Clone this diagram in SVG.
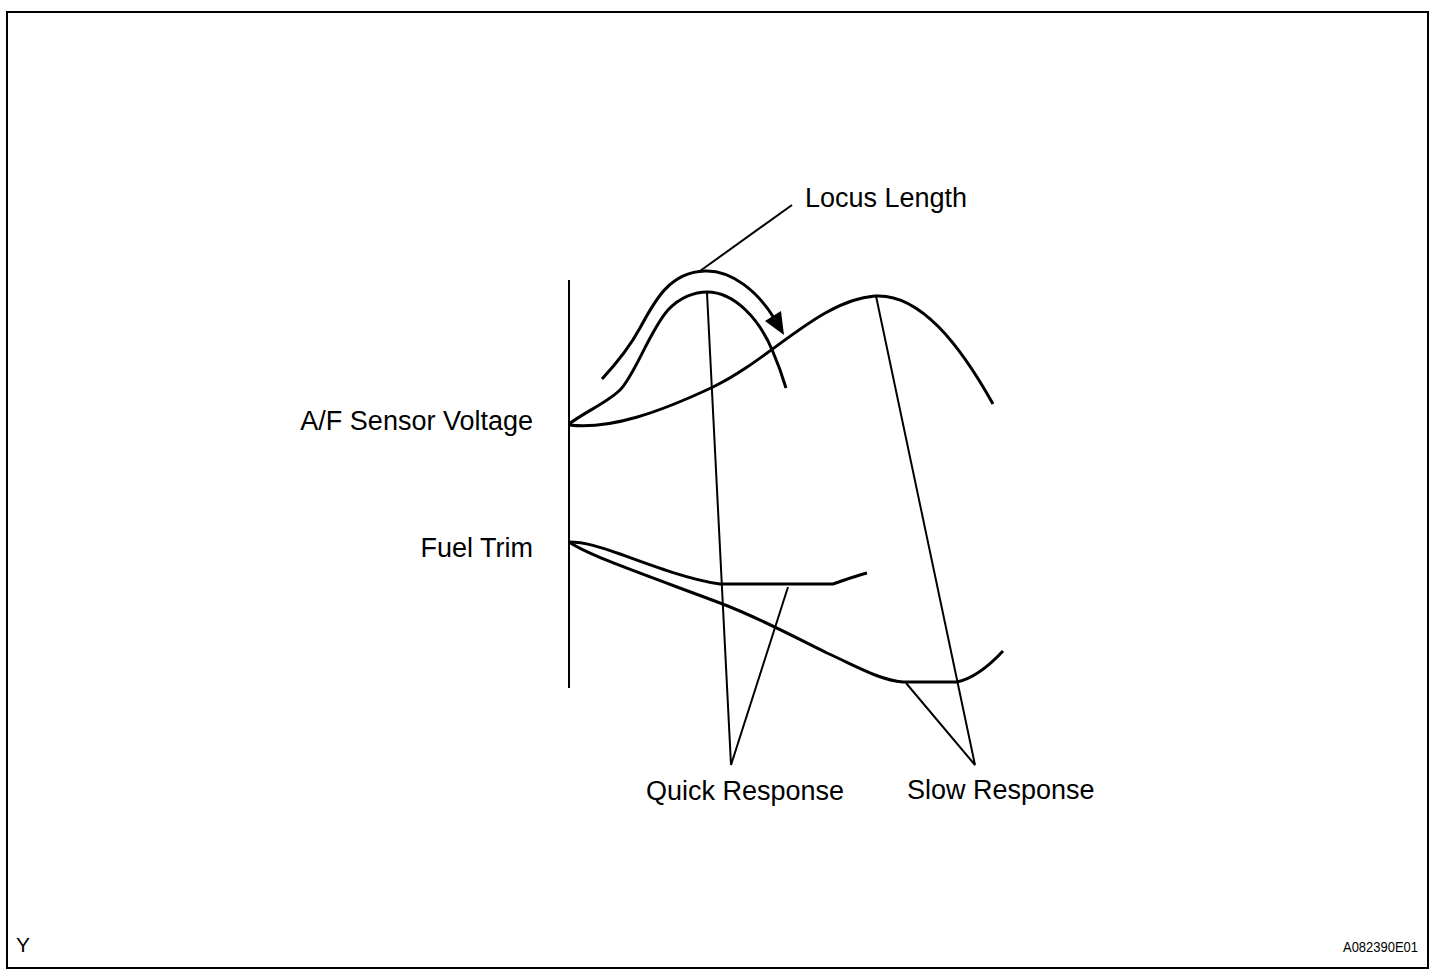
<svg xmlns="http://www.w3.org/2000/svg" width="1456" height="980" viewBox="0 0 1456 980">
<style>
.curve{fill:none;stroke:#000;stroke-width:3;stroke-linecap:butt;stroke-linejoin:round}
.lead{fill:none;stroke:#000;stroke-width:2}
.lbl{font-family:"Liberation Sans",Arial,sans-serif;font-size:27px;fill:#000}
</style>
<rect x="0" y="0" width="1456" height="980" fill="#fff"/>
<rect x="7" y="12" width="1421" height="956" fill="none" stroke="#000" stroke-width="2"/>
<g id="axis">
<line x1="569" y1="280" x2="569" y2="688" stroke="#000" stroke-width="2"/>
</g>
<g id="af-quick">
<path class="curve" d="M569,424 C585,412 608,402 620,390 C635,375 650,330 668,310 C680,297 695,292 707,292 C735,292 760,320 773,352 C779,366 783,378 786,388"/>
</g>
<g id="af-slow">
<path class="curve" d="M569,425 C610,430 660,412 713,387 C770,360 820,300 875,296 C920,293 960,345 993,404"/>
</g>
<g id="locus">
<path class="curve" d="M602,379 C615,365 628,350 640,328 C655,300 670,272 705,271 C732,270 758,292 774,318"/>
<polygon points="765,321 781,311 784,335" fill="#000"/>
</g>
<g id="ft-quick">
<path class="curve" d="M569,542 C585,542 600,547 620,554 C650,565 690,580 720,584 L833,584 C845,580 855,576 867,573"/>
</g>
<g id="ft-slow">
<path class="curve" d="M569,542 C590,556 640,573 720,603 C760,618 790,635 827,653 C860,668 880,680 903,682 L957,682 C975,678 990,665 1003,651"/>
</g>
<g id="connectors">
<line class="lead" x1="792" y1="205" x2="700" y2="271"/>
<polyline class="lead" points="707,293 731,765 788,587"/>
<polyline class="lead" points="876,296 975,765 906,683"/>
</g>
<g id="labels">
<text class="lbl" x="533" y="430" text-anchor="end">A/F Sensor Voltage</text>
<text class="lbl" x="533" y="557" text-anchor="end">Fuel Trim</text>
<text class="lbl" x="805" y="207">Locus Length</text>
<text class="lbl" x="646" y="800">Quick Response</text>
<text class="lbl" x="907" y="799">Slow Response</text>
<text x="16" y="952" style="font-family:'Liberation Sans',Arial,sans-serif;font-size:21px">Y</text>
<text x="1343" y="952" textLength="75" lengthAdjust="spacingAndGlyphs" style="font-family:'Liberation Sans',Arial,sans-serif;font-size:15px">A082390E01</text>
</g>
</svg>
